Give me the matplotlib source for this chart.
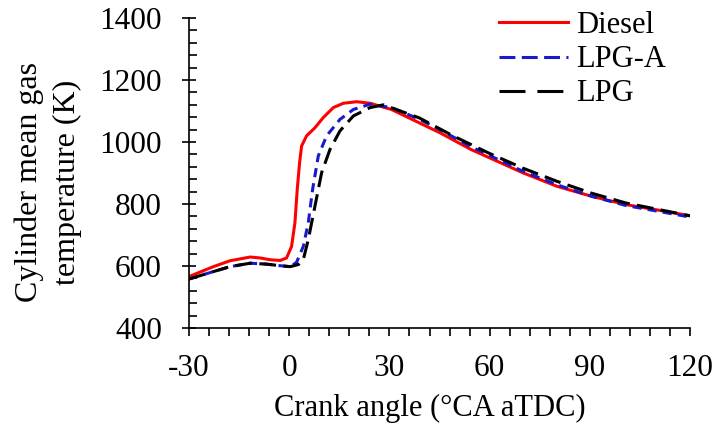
import matplotlib
matplotlib.use("Agg")
from matplotlib import pyplot as plt
from matplotlib.lines import Line2D
from matplotlib.ticker import MultipleLocator

# crank angle (deg CA aTDC) and mean gas temperature (K)
diesel_ca = [-30, -22.7, -17.7, -11.7, -8.7, -5.6, -2.7, -0.8, 0.7, 1.7, 2.4, 3.1, 3.7,
             5.2, 7.7, 10.2, 13.2, 16.2, 20.2, 24.2, 30.6, 38.9, 45.1, 54.4, 69.9, 80.2,
             90.5, 100.9, 111.2, 120]
diesel_t = [566, 598, 617, 629, 626, 620, 618, 626, 663, 739, 847, 933, 987,
            1020, 1046, 1079, 1111, 1125, 1130, 1125, 1105, 1062, 1030, 976, 901, 857,
            825, 798, 779, 762]

lpga_ca = [-30, -22.7, -17.7, -11.7, -6.7, -2.7, 0.3, 2.2, 4.2, 5.7, 7.0, 8.7, 11.2,
           15.2, 19.2, 24.2, 30.6, 38.9, 45.1, 54.4, 69.9, 80.2, 90.5, 100.9, 111.2, 120]
lpga_t = [558, 582, 598, 609, 606, 601, 598, 612, 663, 739, 847, 955, 1020,
          1073, 1105, 1122, 1111, 1074, 1040, 985, 906, 862, 825, 795, 775, 758]

lpg_ca = [-30, -22.7, -17.7, -11.7, -6.7, -2.7, 0.3, 2.8, 4.2, 5.7, 7.7, 9.7, 12.2,
          15.2, 19.2, 24.2, 28.2, 38.9, 49.2, 59.6, 69.9, 80.2, 90.5, 100.9, 111.2, 120]
lpg_t = [558, 582, 598, 609, 606, 601, 598, 605, 620, 685, 793, 901, 976,
         1036, 1084, 1111, 1120, 1078, 1019, 965, 916, 873, 835, 803, 781, 762]

plt.rcParams['font.family'] = ['Liberation Serif', 'DejaVu Serif']
plt.rcParams['axes.unicode_minus'] = False

fig = plt.figure(figsize=(7.19, 4.29), dpi=100)
ax = fig.add_axes([0.2629, 0.2354, 0.6968, 0.7226])

red = '#ff0000'
blue = '#1a1acc'
lw = 2.2
ax.plot(diesel_ca, diesel_t, color=red, lw=lw)
ax.plot(lpga_ca, lpga_t, color=blue, lw=lw, dashes=(3, 2))
ax.plot(lpg_ca, lpg_t, color='black', lw=lw, dashes=(5.5, 2.4))

ax.set_xlim(-30, 120)
ax.set_ylim(400, 1400)
ax.xaxis.set_major_locator(MultipleLocator(30))
ax.xaxis.set_minor_locator(MultipleLocator(6))
ax.yaxis.set_major_locator(MultipleLocator(200))
ax.yaxis.set_minor_locator(MultipleLocator(40))

for s in ['top', 'right']:
    ax.spines[s].set_visible(False)
for s in ['left', 'bottom']:
    ax.spines[s].set_linewidth(1.2)

ax.tick_params(axis='x', which='major', direction='out', length=5.8, width=1.2, labelsize=22.5, pad=13)
ax.tick_params(axis='x', which='minor', direction='out', length=5.8, width=1.2)
ax.tick_params(axis='y', which='major', direction='inout', length=10, width=1.2, labelsize=22.5, pad=14.5)
ax.tick_params(axis='y', which='minor', direction='in', length=6, width=1.2)

ax.set_xlabel('Crank angle (°CA aTDC)', fontsize=22)
ax.xaxis.set_label_coords(0.48, -0.213)
ax.set_ylabel('Cylinder mean gas\ntemperature (K)', fontsize=23, linespacing=1.4)
ax.yaxis.set_label_coords(-0.2136, 0.471)

# legend uses longer dashes than the curves, as in the original
handles = [Line2D([], [], color=red, lw=lw),
           Line2D([], [], color=blue, lw=lw, dashes=(5.2, 2.1)),
           Line2D([], [], color='black', lw=lw, dashes=(8.5, 3.9))]
ax.legend(handles, ['Diesel', 'LPG-A', 'LPG'], loc='upper left',
          bbox_to_anchor=(499 / 719, 1 - 11 / 429), bbox_transform=fig.transFigure,
          frameon=False, fontsize=22, borderpad=0, borderaxespad=0,
          handlelength=2.25, handletextpad=0.26, labelspacing=0.17)

fig.savefig('out.png', dpi=100)
